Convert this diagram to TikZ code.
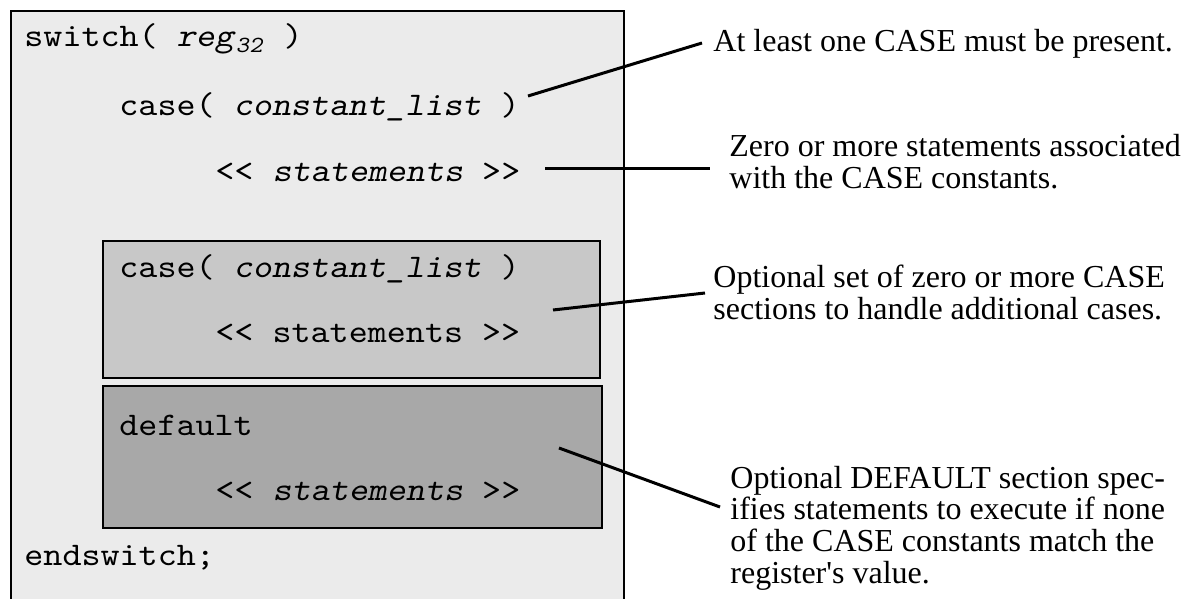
\documentclass[tikz,border=0pt]{standalone}
\usepackage{fontspec}
\setmainfont{Liberation Serif}
\setmonofont{lmmono10-regular.otf}[ItalicFont=lmmonoslant10-regular.otf, FakeStretch=1.10]
\definecolor{outerfill}{HTML}{EBEBEB}
\definecolor{casefill}{HTML}{C8C8C8}
\definecolor{deffill}{HTML}{A8A8A8}
\begin{document}
\begin{tikzpicture}[x=0.5pt,y=-0.5pt,
  code/.style={anchor=base west, inner sep=0pt, font=\fontsize{16.5}{17}\selectfont\ttfamily},
  note/.style={anchor=base west, inner sep=0pt, align=left, font=\fontsize{16}{15.8}\selectfont},
  lead/.style={line width=1.5pt},
  frame/.style={line width=1.2pt, draw=black}]
\useasboundingbox (0,0) rectangle (1182,599);
% outer switch block (bottom edge runs off the picture)
\fill[outerfill] (11,11) rectangle (624,599);
\draw[frame] (11,599) -- (11,11) -- (624,11) -- (624,599);
% optional case section
\filldraw[frame, fill=casefill] (103,241) rectangle (600,378);
% default section
\filldraw[frame, fill=deffill] (103,386) rectangle (602,528);
% code text
\node[code] (sw) at (24,47) {switch( \textit{reg}\textsubscript{\textit{32}} )};
\node[code] (c1) at (119,115) {case( \textit{constant\_list} )};
\node[code] (s1) at (215,181) {<{}< \textit{statements} >{}>};
\node[code] (c2) at (119,277) {case( \textit{constant\_list} )};
\node[code] (s2) at (215,342) {<{}< statements >{}>};
\node[code] (df) at (119,435) {default};
\node[code] (s3) at (215,500) {<{}< \textit{statements} >{}>};
\node[code] (es) at (24,565) {endswitch;};
% notes (base anchor = baseline of the last line)
\node[note] (n1) at (713,52) {At least one CASE must be present.};
\node[note] (n2) at (729,188) {Zero or more statements associated\\with the CASE constants.};
\node[note] (n3) at (713,319) {Optional set of zero or more CASE\\sections to handle additional cases.};
\node[note] (n4) at (730,583) {Optional DEFAULT section spec-\\ifies statements to execute if none\\of the CASE constants match the\\register\textquotesingle s value.};
% leader lines
\coordinate (p1) at (528,96);  \coordinate (q1) at (702,43);
\coordinate (p2) at (545,168); \coordinate (q2) at (710,168);
\coordinate (p3) at (553,310); \coordinate (q3) at (705,293);
\coordinate (p4) at (559,448); \coordinate (q4) at (720,507);
\draw[lead] (p1) -- (q1);
\draw[lead] (p2) -- (q2);
\draw[lead] (p3) -- (q3);
\draw[lead] (p4) -- (q4);
\end{tikzpicture}
\end{document}
